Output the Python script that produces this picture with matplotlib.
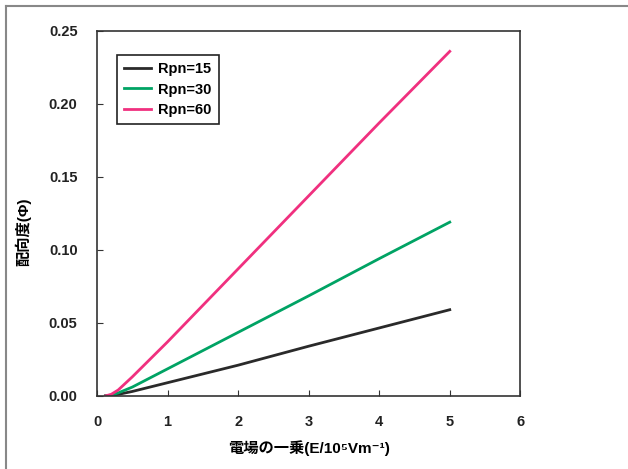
import matplotlib
matplotlib.use("Agg")
import matplotlib.pyplot as plt
from matplotlib.lines import Line2D

plt.rcParams['font.family'] = ['Liberation Sans', 'Noto Sans CJK JP', 'DejaVu Sans']

# field values (x) and orientation degree for each Rpn
field = [0.12, 0.2, 0.3, 0.5, 1, 2, 3, 4, 5]
phi_15 = [0, 0.0003, 0.001, 0.003, 0.009, 0.021, 0.034, 0.0465, 0.059]
phi_30 = [0, 0.0005, 0.002, 0.006, 0.0185, 0.0435, 0.0685, 0.094, 0.119]
phi_60 = [0, 0.001, 0.004, 0.013, 0.037, 0.087, 0.137, 0.187, 0.236]

labels = ["Rpn=15", "Rpn=30", "Rpn=60"]
colors = ["#2a2a2a", "#00a364", "#f0307f"]

fig = plt.figure(figsize=(6.28, 4.69), dpi=100)
ax = fig.add_axes([0.1545, 0.156, 0.674, 0.778])

for ys, lab, c in zip([phi_15, phi_30, phi_60], labels, colors):
    ax.plot(field, ys, color=c, linewidth=2, label=lab)

ax.set_xlim(0, 6)
ax.set_ylim(0, 0.25)
ax.set_xticks(range(0, 7))
ax.set_yticks([0, 0.05, 0.10, 0.15, 0.20, 0.25])
ax.set_yticklabels(["0.00", "0.05", "0.10", "0.15", "0.20", "0.25"])
ax.tick_params(direction="in", length=4, labelsize=10.5, pad=14, color="#333333")
for t in ax.get_xticklabels() + ax.get_yticklabels():
    t.set_fontweight("bold")
    t.set_color("#222222")
for s in ax.spines.values():
    s.set_color("#333333")
    s.set_linewidth(1.2)

ax.set_xlabel("電場の一乗(E/10⁵Vm⁻¹)", fontsize=11, fontweight="bold", labelpad=8)
ax.set_ylabel("配向度(Φ)", fontsize=11, fontweight="bold")
ax.yaxis.set_label_coords(-0.155, 0.45)

leg = ax.legend(loc="upper left", bbox_to_anchor=(0.03, 0.955), fancybox=False,
                edgecolor="#222222", framealpha=1, prop={"weight": "bold", "size": 10.5},
                handlelength=1.8, handletextpad=0.5, borderpad=0.5, labelspacing=0.45)
leg.get_frame().set_linewidth(1.2)

# outer frame lines (left and top)
fig.add_artist(Line2D([0.0096, 0.0096], [0, 0.987], color="#888888", linewidth=1.5))
fig.add_artist(Line2D([0.0096, 1], [0.987, 0.987], color="#888888", linewidth=1.5))

fig.savefig("out.png", dpi=100)
